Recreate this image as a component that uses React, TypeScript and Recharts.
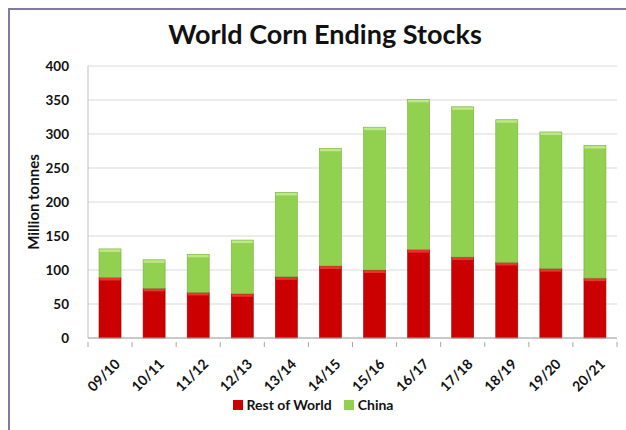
import React from "react";
import { BarChart, Bar, XAxis, YAxis, CartesianGrid } from "recharts";

/* ================= DATA ================= */

const seasons = [
  "09/10", "10/11", "11/12", "12/13", "13/14", "14/15",
  "15/16", "16/17", "17/18", "18/19", "19/20", "20/21",
];
const restOfWorld = [89, 73, 67, 65, 90, 106, 100, 130, 119, 111, 102, 88];
const china = [42, 42, 56, 79, 124, 173, 210, 221, 221, 210, 201, 195];
const yTicks = [0, 50, 100, 150, 200, 250, 300, 350, 400];

const data = seasons.map((s, i) => ({
  season: s,
  row: restOfWorld[i],
  china: china[i],
}));

/* ================= LAYOUT ================= */

const W = 626;
const H = 430;
const PLOT_LEFT = 88;
const PLOT_RIGHT = 617;
const BAND = (PLOT_RIGHT - PLOT_LEFT) / seasons.length;
const FONT = "Lato, 'Open Sans', sans-serif";

/* bar with a light bevel on top, like the Excel original */
const BevelBar = (props: any) => {
  const { x, y, width, height, fill, light, edge } = props;
  const h = Math.abs(Number(height) || 0);
  const top = Number(height) < 0 ? Number(y) + Number(height) : Number(y);
  return (
    <g>
      <rect x={x} y={top} width={width} height={h} fill={fill} stroke={edge} strokeWidth={0.6} />
      <rect x={Number(x) + 0.5} y={top + 0.5} width={Math.max(0, Number(width) - 1)} height={Math.min(2.5, h)} fill={light} />
    </g>
  );
};

const XTick = (props: any) => {
  const { x, y, payload, index } = props;
  const tx = x + 11;
  const ty = y + 19;
  return (
    <g>
      <line x1={x - BAND / 2} x2={x - BAND / 2} y1={y - 4} y2={y + 1} stroke="#a6a6a6" />
      {index === seasons.length - 1 && (
        <line x1={x + BAND / 2} x2={x + BAND / 2} y1={y - 4} y2={y + 1} stroke="#a6a6a6" />
      )}
      <text
        x={tx}
        y={ty}
        transform={`rotate(-45, ${tx}, ${ty})`}
        textAnchor="end"
        fontFamily={FONT}
        fontWeight={700}
        fontSize={14}
        fill="#111"
      >
        {payload.value}
      </text>
    </g>
  );
};

/* ================= COMPONENT ================= */

export default function App() {
  return (
    <div style={styles.page}>
      <div style={styles.frame} />
      <div style={styles.title}>World Corn Ending Stocks</div>

      <BarChart
        width={W}
        height={H}
        data={data}
        margin={{ top: 66, right: W - PLOT_RIGHT, left: 28, bottom: 42 }}
        barCategoryGap="25%"
      >
        <CartesianGrid vertical={false} stroke="#d9d9d9" />
        <XAxis
          dataKey="season"
          height={50}
          interval={0}
          stroke="#a6a6a6"
          tickLine={false}
          tick={<XTick />}
        />
        <YAxis
          width={60}
          domain={[0, 400]}
          ticks={yTicks}
          stroke="#bfbfbf"
          tickLine={false}
          tickSize={0}
          tickMargin={19}
          tick={{ fontFamily: FONT, fontWeight: 700, fontSize: 13.5, fill: "#111" }}
          label={{
            value: "Million tonnes",
            angle: -90,
            position: "insideLeft",
            dx: 1,
            style: { fontFamily: FONT, fontWeight: 700, fontSize: 15, fill: "#111", textAnchor: "middle" },
          }}
        />
        <Bar
          dataKey="row"
          stackId="a"
          fill="#cc0000"
          isAnimationActive={false}
          shape={(p: any) => <BevelBar {...p} light="#e83434" edge="#a00000" />}
        />
        <Bar
          dataKey="china"
          stackId="a"
          fill="#92d050"
          isAnimationActive={false}
          shape={(p: any) => <BevelBar {...p} light="#bde888" edge="#76b03a" />}
        />
      </BarChart>

      <div style={styles.legend}>
        <span style={{ ...styles.swatch, background: "#cc0000" }} />
        <span style={{ marginRight: 12 }}>Rest of World</span>
        <span style={{ ...styles.swatch, background: "#92d050" }} />
        <span>China</span>
      </div>
    </div>
  );
}

/* ================= STYLES ================= */

const styles: Record<string, React.CSSProperties> = {
  page: {
    position: "absolute",
    left: 0,
    top: 0,
    width: W,
    height: H,
    background: "#fff",
    overflow: "hidden",
  },
  frame: {
    position: "absolute",
    left: 8,
    top: 8,
    width: W,
    height: H,
    borderTop: "2px solid #85789f",
    borderLeft: "2px solid #85789f",
  },
  title: {
    position: "absolute",
    left: 0,
    top: 17,
    width: 650,
    textAlign: "center",
    fontFamily: FONT,
    fontWeight: 700,
    fontSize: 27,
    color: "#111",
  },
  legend: {
    position: "absolute",
    left: 0,
    top: 396,
    width: 626,
    display: "flex",
    justifyContent: "center",
    alignItems: "center",
    fontFamily: FONT,
    fontWeight: 700,
    fontSize: 14,
    color: "#111",
  },
  swatch: {
    display: "inline-block",
    width: 10,
    height: 10,
    marginRight: 4,
  },
};
